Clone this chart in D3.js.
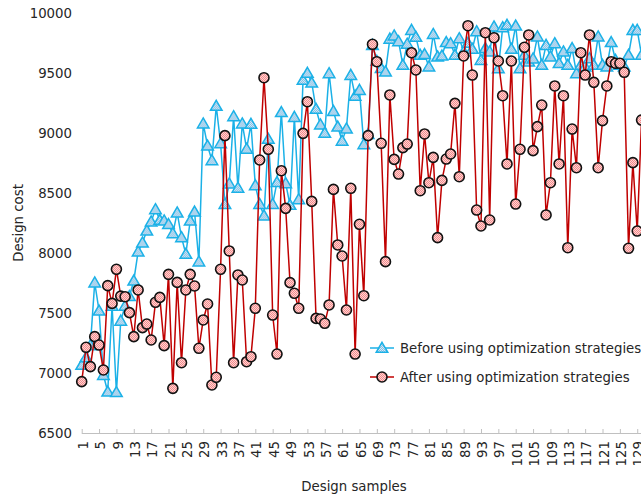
<!DOCTYPE html>
<html>
<head>
<meta charset="utf-8">
<script src="https://d3js.org/d3.v7.min.js"></script>
<style>
    body { margin: 0; background: #fff; }
    svg text { font-family: "DejaVu Sans", Verdana, sans-serif; font-size: 13.3px; fill: #262626; }
    .x-axis path, .x-axis line { stroke: #c0c0c0; }
    .before-line { fill: none; stroke: #1bb1e7; stroke-width: 1.5; }
    .after-line { fill: none; stroke: #c00000; stroke-width: 1.5; }
</style>
</head>
<body>
<div id="chart"></div>
<script>
    // design sample numbers (categories)
    let samples = d3.range(1, 131);

    // design cost before optimization strategies
    let beforeCost = [
        7067, 7130, 7230, 7753, 7519, 6983, 6844, 7560, 6840, 7435,
        7560, 7640, 7769, 8011, 8086, 8186, 8261, 8364, 8275, 8270,
        8240, 8164, 8336, 8130, 7992, 8269, 8344, 7928, 9078, 8894,
        8772, 9225, 8914, 8408, 8578, 9139, 8543, 9078, 8868, 9075,
        8564, 8408, 8311, 8950, 8408, 8590, 9173, 8580, 8400, 9133,
        8447, 9442, 9500, 9419, 9200, 9070, 9000, 9497, 9182, 9052,
        8935, 9036, 9483, 9310, 9358, 8905, 8990, 9733, 9600, 9540,
        9511, 9785, 9812, 9764, 9567, 9743, 9858, 9800, 9650, 9656,
        9553, 9824, 9636, 9644, 9756, 9747, 9650, 9789, 9678, 9750,
        9700, 9847, 9608, 9706, 9678, 9886, 9539, 9880, 9900, 9700,
        9894, 9539, 9650, 9594, 9620, 9803, 9567, 9733, 9636, 9747,
        9581, 9678, 9567, 9706, 9497, 9567, 9553, 9622, 9567, 9803,
        9567, 9553, 9756, 9608, 9567, 9553, 9650, 9858, 9858, 9650
    ];

    // design cost after optimization strategies
    let afterCost = [
        6928, 7214, 7053, 7303, 7233, 7025, 7728, 7580, 7864, 7641,
        7636, 7503, 7303, 7692, 7378, 7408, 7275, 7589, 7630, 7228,
        7822, 6872, 7755, 7086, 7692, 7822, 7725, 7206, 7442, 7575,
        6900, 6964, 7864, 8978, 8017, 7086, 7817, 7775, 7094, 7136,
        7539, 8775, 9461, 8864, 7483, 7158, 8686, 8372, 7753, 7664,
        7539, 8997, 9261, 8430, 7455, 7450, 7414, 7567, 8530, 8067,
        7975, 7525, 8539, 7158, 8239, 7644, 8978, 9739, 9594, 8914,
        7928, 9317, 8780, 8658, 8878, 8908, 9669, 9525, 8519, 8992,
        8586, 8797, 8128, 8605, 8783, 8825, 9247, 8636, 9642, 9894,
        9483, 8358, 8225, 9836, 8275, 9794, 9600, 9311, 8742, 9600,
        8408, 8864, 9714, 9817, 8853, 9053, 9233, 8317, 8586, 9392,
        8742, 9311, 8044, 9033, 8711, 9669, 9483, 9817, 9422, 8711,
        9103, 9392, 9594, 9581, 9581, 9506, 8039, 8753, 8183, 9108
    ];

    let seriesNames = ["Before using optimization strategies", "After using optimization strategies"];
    let yTicks = [6500, 7000, 7500, 8000, 8500, 9000, 9500, 10000];
    let xTickLabels = samples.filter(function(d) { return (d - 1) % 4 === 0; });

    let width = 641, height = 499;

    let svg = d3.select("#chart").append("svg")
        .attr("width", width)
        .attr("height", height);

    // marker fills
    let defs = svg.append("defs");
    let bp = defs.append("pattern").attr("id", "blueFill")
        .attr("width", 2).attr("height", 2).attr("patternUnits", "userSpaceOnUse");
    bp.append("rect").attr("width", 2).attr("height", 2).attr("fill", "#d3eaf8");
    bp.append("rect").attr("width", 1).attr("height", 1).attr("fill", "#86bde2");
    bp.append("rect").attr("x", 1).attr("y", 1).attr("width", 1).attr("height", 1).attr("fill", "#86bde2");
    let rp = defs.append("pattern").attr("id", "redFill")
        .attr("width", 2).attr("height", 2).attr("patternUnits", "userSpaceOnUse");
    rp.append("rect").attr("width", 2).attr("height", 2).attr("fill", "#ffd3d3");
    rp.append("rect").attr("width", 1).attr("height", 1).attr("fill", "#f28b8b");
    rp.append("rect").attr("x", 1).attr("y", 1).attr("width", 1).attr("height", 1).attr("fill", "#f28b8b");

    let x = d3.scalePoint()
        .domain(samples)
        .range([81.7, 81.7 + 129 * 4.34]);

    let y = d3.scaleLinear()
        .domain([6500, 10000])
        .range([433, 13]);

    // x axis
    let xAxis = d3.axisBottom(x)
        .tickValues(xTickLabels)
        .tickSizeInner(-4)
        .tickSizeOuter(0);

    let gx = svg.append("g")
        .attr("class", "x-axis")
        .attr("transform", "translate(0," + y(6500) + ")")
        .call(xAxis);
    gx.select(".domain").attr("d", "M" + x(1) + ",0.5H" + (width + 20));
    gx.selectAll(".tick text")
        .attr("transform", "rotate(-90)")
        .attr("x", -8)
        .attr("y", 1)
        .attr("dy", "0.35em")
        .style("text-anchor", "end");

    // y axis labels only
    svg.append("g").selectAll("text")
        .data(yTicks)
        .enter().append("text")
        .attr("x", 72)
        .attr("y", function(d) { return y(d); })
        .attr("dy", "0.35em")
        .style("text-anchor", "end")
        .text(function(d) { return d; });

    // axis titles
    svg.append("text")
        .attr("transform", "translate(23," + 223 + ") rotate(-90)")
        .style("text-anchor", "middle")
        .text("Design cost");

    svg.append("text")
        .attr("x", 354)
        .attr("y", 491)
        .style("text-anchor", "middle")
        .text("Design samples");

    let triangle = d3.symbol().type(d3.symbolTriangle).size(58);

    let line = d3.line()
        .x(function(d, i) { return x(samples[i]); })
        .y(function(d) { return y(d); });

    // before series
    svg.append("path")
        .datum(beforeCost)
        .attr("class", "before-line")
        .attr("d", line);

    svg.append("g").selectAll("path")
        .data(beforeCost)
        .enter().append("path")
        .attr("d", triangle)
        .attr("transform", function(d, i) { return "translate(" + x(samples[i]) + "," + (y(d) + 1) + ")"; })
        .attr("fill", "url(#blueFill)")
        .attr("stroke", "#1bb1e7")
        .attr("stroke-width", 1.5);

    // after series
    svg.append("path")
        .datum(afterCost)
        .attr("class", "after-line")
        .attr("d", line);

    svg.append("g").selectAll("circle")
        .data(afterCost)
        .enter().append("circle")
        .attr("cx", function(d, i) { return x(samples[i]); })
        .attr("cy", function(d) { return y(d); })
        .attr("r", 5)
        .attr("fill", "url(#redFill)")
        .attr("stroke", "#111")
        .attr("stroke-width", 1.6);

    // legend
    let legend = svg.append("g").attr("transform", "translate(370,348)");

    legend.append("line")
        .attr("x1", 0).attr("x2", 24).attr("y1", 0).attr("y2", 0)
        .attr("stroke", "#1bb1e7").attr("stroke-width", 1.5);
    legend.append("path")
        .attr("d", triangle)
        .attr("transform", "translate(12,1)")
        .attr("fill", "url(#blueFill)")
        .attr("stroke", "#1bb1e7")
        .attr("stroke-width", 1.5);
    legend.append("text")
        .attr("x", 30).attr("y", 0).attr("dy", "0.35em")
        .text(seriesNames[0]);

    legend.append("line")
        .attr("x1", 0).attr("x2", 24).attr("y1", 29).attr("y2", 29)
        .attr("stroke", "#c00000").attr("stroke-width", 1.5);
    legend.append("circle")
        .attr("cx", 12).attr("cy", 29).attr("r", 5)
        .attr("fill", "url(#redFill)")
        .attr("stroke", "#111")
        .attr("stroke-width", 1.6);
    legend.append("text")
        .attr("x", 30).attr("y", 29).attr("dy", "0.35em")
        .text(seriesNames[1]);
</script>
</body>
</html>
